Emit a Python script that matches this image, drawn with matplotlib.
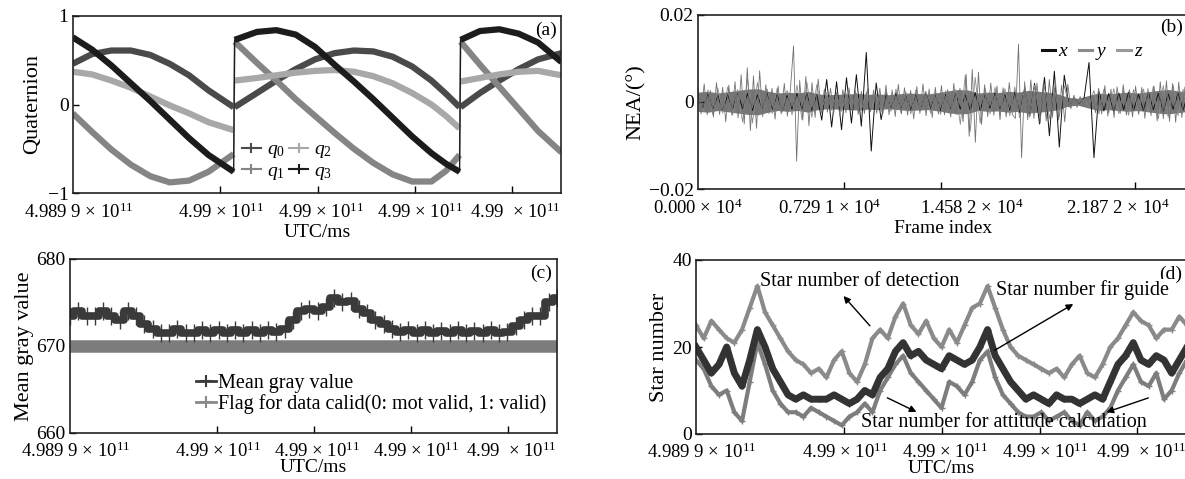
import matplotlib.pyplot as plt
from matplotlib.lines import Line2D
import numpy as np

plt.rcParams['font.family'] = ['Liberation Serif', 'DejaVu Serif']
plt.rcParams['mathtext.fontset'] = 'custom'
plt.rcParams['mathtext.rm'] = 'Liberation Serif'
plt.rcParams['mathtext.it'] = 'Liberation Serif:italic'
plt.rcParams['font.size'] = 14

# ---------------- (a) quaternion, time in tick units
t_a = [0, .2, .4, .6, .8, 1.0, 1.2, 1.4, 1.66,
       1.67, 1.9, 2.1, 2.3, 2.5, 2.7, 2.9, 3.1, 3.3, 3.5, 3.7, 3.85, 3.99,
       4.0, 4.2, 4.4, 4.6, 4.8, 5.04]
q0 = [0.46, 0.57, 0.61, 0.61, 0.56, 0.46, 0.33, 0.16, -0.03,
      -0.03, 0.13, 0.27, 0.40, 0.51, 0.58, 0.61, 0.60, 0.54, 0.43, 0.27, 0.12, -0.03,
      -0.03, 0.13, 0.27, 0.40, 0.51, 0.58]
q1 = [-0.10, -0.31, -0.51, -0.68, -0.81, -0.88, -0.86, -0.76, -0.56,
      0.71, 0.47, 0.27, 0.06, -0.13, -0.32, -0.50, -0.66, -0.79, -0.87, -0.87, -0.75, -0.57,
      0.71, 0.45, 0.20, -0.05, -0.30, -0.54]
q2 = [0.37, 0.34, 0.27, 0.19, 0.09, -0.01, -0.10, -0.20, -0.29,
      0.27, 0.30, 0.33, 0.36, 0.38, 0.39, 0.37, 0.32, 0.24, 0.13, 0.00, -0.13, -0.27,
      0.26, 0.30, 0.34, 0.37, 0.38, 0.33]
q3 = [0.76, 0.62, 0.44, 0.24, 0.04, -0.17, -0.38, -0.57, -0.76,
      0.73, 0.82, 0.84, 0.79, 0.65, 0.45, 0.26, 0.06, -0.15, -0.36, -0.55, -0.67, -0.76,
      0.73, 0.83, 0.85, 0.80, 0.70, 0.48]
seg_a = [(0, 9), (9, 22), (22, 28)]

utc_marks = [1.52, 2.53, 3.53, 4.53]
utc_label_pos = [0.06, 1.53, 2.56, 3.58, 4.57]
utc_labels = ["4.989 9 × 10$^{11}$", "4.99 × 10$^{11}$", "4.99 × 10$^{11}$",
              "4.99 × 10$^{11}$", "4.99  × 10$^{11}$"]

# ---------------- (b) NEA noise, 1e-3 deg
z_nea = [3.2, -2.8, 4.1, -3.0,
         2.6, -3.5, 4.4, -2.9, 3.3, -4.6, 3.8, -3.1, 4.6, -3.7,
         6.2, -5.1, 7.8, -6.6, 5.9, -6.1, 7.1,
         -3.4, 3.9, -2.7, 3.1, -4.0, 3.6, -2.8, 4.2, -3.3, 2.9,
         12.8, -13.6,
         4.9, -4.2, 5.8, -5.5, 4.4, -3.6, 5.2,
         -2.6, 2.9, -2.4, 3.1, -2.7, 2.2, -3.0, 2.8, -2.5, 3.2, -2.1, 2.6, -2.9, 2.4, -2.7, 3.0, -2.3, 2.7, -2.6,
         3.1, -2.6, 3.8, -3.0, 2.7, -3.4, 4.0, -2.8, 3.2, -3.1, 2.6, -3.9, 3.5, -2.7, 4.1, -3.2, 2.9, -3.6, 3.3,
         -2.8, 3.7, -3.0, 2.8, -3.5, 4.2, -2.9, 3.1,
         -4.6, 6.3, -7.9, 7.4, -9.3, 6.8, -5.2,
         3.9, -3.4, 4.3, -3.1, 3.6, -4.1, 3.2, -3.5, 4.4, -2.9, -3.8,
         13.2, -12.8,
         4.6, -4.1, 5.0, -3.8, 4.3, -4.9, 3.9, -4.4, 5.1, -3.6, 4.7, -4.2, 3.8, -4.6, 4.0,
         -1.6, 1.5, -1.3, 1.2, -1.0, 0.9, -0.8, 0.9,
         -2.5,
         3.1, -2.8, 3.7, -3.3, 2.9, -3.6, 3.4, -2.7, 3.9, -3.1, 2.8, -3.5, 3.6, -2.9, 3.3,
         -3.8, 3.0, -3.2, 3.5, -4.4, 4.6, -3.9, 4.8, -4.5, 4.2, -4.7, 4.5, -3.6, 3.4, -3.0]
y_nea = [2.4, -2.1, 2.7,
         -2.9, 3.1, -2.6, 3.4, -3.0, 2.8,
         -4.6, 5.3, -4.9, 4.4,
         -2.5, 2.9, -2.7, 3.1, -2.4, 2.6,
         -3.0,
         3.8, -4.1, 4.5, -3.6, 3.9,
         -1.8, 2.1, -2.0, 1.7, -2.2, 1.9, -1.6, 2.0, -1.9, 2.2, -1.7, 1.8,
         -2.4, 2.6, -2.2, 2.9, -2.5, 2.3, -2.8, 2.7, -2.1, 2.4, -2.6, 2.2, -2.9, 2.5, -2.3, 2.8,
         -5.2, 6.1, -6.8, 5.6, -4.9,
         3.1, -2.8, 3.3, -2.9, 3.0, -3.2,
         3.4, -3.7, 3.3, -3.5, 3.8, -3.1, 3.6, -3.9, 3.2, -3.4, 3.7,
         -1.1, 0.9, -0.8, 0.7, -0.9,
         2.6, -2.8, 2.9, -2.5, 3.0, -2.7, 2.6, -3.1, 2.8, -2.6,
         2.9, -2.4, 3.6, -3.9, 3.7, -3.5, 3.8, -3.2, 2.9, -2.7]
x_nea = [1.8, -1.6, 2.0, -1.9, 1.5, -2.1, 1.7, -1.8, 2.2, -1.6, 1.9, -2.0, 1.6,
         -1.7, 2.1, -1.9, 1.8, -2.2, 1.6, -1.8, 2.0, -1.7, 1.9, -2.1, 1.7,
         -4.2, 5.1, -5.8, 4.6, -6.4, 5.5, -4.9, 6.2, -5.6,
         11.3, -11.3,
         4.3, -4.1,
         1.9, -1.7, 2.1, -1.8, 1.6, -2.0, 1.8, -1.9, 2.2, -1.6, 1.7, -2.1, 1.9, -1.8,
         2.0, -1.7, 1.6, -1.9, 2.1, -2.0, 1.8, -1.6, 2.2, -1.9, 1.7, -2.1, 2.3, -2.6,
         3.1, -3.4, 4.2, -5.1, 5.6,
         -7.8, 7.0, -10.4, 6.1,
         -1.2, 0.9, -0.7, 0.8,
         9.0, -12.8,
         2.4, -2.1, 1.9, -2.3, 2.0, -1.8, 2.2, -1.9, 1.7, -2.0, 2.1, -1.8, 1.9, -2.2,
         1.8, -1.7, 2.0, -1.9, 1.8]
# half-width of the solid gray core of the noise band, 1e-3 deg
core_nea = [2.2, 2.4, 2.0, 2.3, 2.6, 2.9, 3.0, 2.4, 2.0, 2.2,
            2.0, 2.4, 1.8, 1.6, 1.7, 1.8, 1.9, 1.7, 1.8, 1.6,
            1.8, 2.0, 1.9, 1.8, 2.1, 2.5, 2.8, 2.7, 2.0, 2.2,
            2.1, 2.4, 2.2, 2.6, 2.4, 2.2, 1.8, 1.0, 0.8, 1.4,
            2.0, 1.8, 2.0, 2.2, 2.0, 2.3, 2.6, 2.8, 2.5, 2.2]
frame_max = 24500
frame_marks = [7290, 12150, 21870]
frame_label_pos = [0, 6600, 13700, 21000]
frame_labels = ["0.000 × 10$^{4}$", "0.729 1 × 10$^{4}$", "1.458 2 × 10$^{4}$", "2.187 2 × 10$^{4}$"]

# ---------------- (c) mean gray value
gray_mean = [673.5, 674, 673.5, 673.5, 674, 673.5, 673, 674, 673.5, 672.5,
             672, 671.5, 671.5, 672, 671.5, 671.5, 671.8, 671.5, 671.8, 671.5,
             671.8, 671.5, 671.8, 671.5, 671.8, 671.6, 672, 673, 674, 674.2,
             674, 674.5, 675.5, 675, 675.2, 674.3, 673.8, 673, 672.5, 672,
             671.6, 671.8, 671.5, 671.8, 671.5, 671.7, 671.5, 671.8, 671.5, 671.7,
             671.5, 671.8, 671.5, 671.6, 672.3, 673, 673.5, 673.5, 675, 675.5]
flag_t = [0, 5.04]
flag_v = [670, 670]

# ---------------- (d) star numbers
star_det = [25, 22, 26, 24, 22, 21, 24, 29, 34, 28, 25, 22, 19, 17, 16, 14, 15, 13, 17, 19,
            14, 12, 16, 22, 24, 22, 27, 30, 25, 23, 26, 22, 20, 24, 21, 25, 29, 30, 34, 29,
            24, 20, 18, 17, 16, 15, 14, 15, 13, 16, 18, 14, 13, 16, 20, 22, 25, 28, 26, 25,
            22, 24, 24, 27, 25]
star_guide = [20, 17, 14, 16, 20, 14, 11, 17, 24, 20, 15, 12, 9, 8, 9, 8, 8, 8, 9, 8,
              7, 8, 10, 9, 13, 15, 19, 21, 18, 19, 17, 16, 15, 18, 17, 16, 17, 20, 24, 18,
              15, 12, 10, 8, 9, 8, 7, 9, 8, 8, 7, 8, 9, 8, 12, 16, 18, 21, 17, 16,
              18, 17, 14, 17, 20]
star_att = [17, 15, 11, 9, 10, 5, 3, 12, 21, 16, 10, 7, 5, 5, 4, 6, 5, 4, 3, 2,
            4, 5, 7, 5, 10, 13, 16, 18, 14, 12, 10, 8, 6, 12, 11, 9, 12, 17, 19, 13,
            9, 7, 5, 4, 4, 5, 3, 4, 5, 3, 2, 5, 3, 4, 6, 10, 13, 16, 12, 11,
            14, 8, 10, 14, 17]

W, H = 1185, 479
fig = plt.figure(figsize=(W / 100, H / 100), dpi=100)


def box(l, t, r, b):
    return [l / W, 1 - b / H, (r - l) / W, (b - t) / H]


def style(ax, marks, lpos, labels, yt, ylabels, pad=7):
    ax.set_xticks(lpos, labels)
    ax.set_xticks(marks, minor=True)
    ax.tick_params(axis='x', which='major', length=0, pad=pad, labelsize=13.5)
    ax.tick_params(axis='x', which='minor', direction='in', length=5, width=1)
    ax.set_yticks(yt, ylabels)
    ax.tick_params(axis='y', direction='in', length=4, width=1, labelsize=14, pad=3)
    for s in ax.spines.values():
        s.set_linewidth(1.2)
        s.set_color('#222222')


# ---- (a)
ax = fig.add_axes(box(72.7, 16, 561.4, 193))
cols_a = ['#4a4a4a', '#858585', '#a8a8a8', '#1c1c1c']
for q, c in zip([q0, q1, q2, q3], cols_a):
    ax.plot(t_a, q, color=c, lw=1)
    for s0, s1 in seg_a:
        ax.plot(t_a[s0:s1], q[s0:s1], color=c, lw=4.5, solid_capstyle='butt')
ax.set_xlim(0, 5.04)
ax.set_ylim(-1, 1)
style(ax, utc_marks, utc_label_pos, utc_labels, [-1, 0, 1], ['\u22121', '0', '1'])
ax.set_xlabel('UTC/ms', labelpad=1)
ax.set_ylabel('Quaternion', labelpad=4, fontsize=16)
ax.text(0.99, 0.92, '(a)', transform=ax.transAxes, ha='right', va='center')
hs = [Line2D([], [], color=c, marker='+', lw=1.5, ms=7, mew=1.5) for c in cols_a]
ax.legend(hs, ['$q_0$', '$q_1$', '$q_2$', '$q_3$'], ncol=2, frameon=False,
          loc='upper left', bbox_to_anchor=(232 / W, 1 - 131 / H), bbox_transform=fig.transFigure,
          handlelength=1.0, handletextpad=0.3, columnspacing=0.2, labelspacing=0.1,
          borderpad=0, fontsize=14)

# ---- (b)
ax = fig.add_axes(box(698, 14.5, 1188, 189))
ax.plot(np.linspace(0, frame_max, len(x_nea)), np.array(x_nea) / 1000, color='#111111', lw=0.7)
fc = np.linspace(0, frame_max, len(core_nea))
ax.fill_between(fc, -np.array(core_nea) / 1000, np.array(core_nea) / 1000,
                color='#777777', lw=0)
for v, c in zip([y_nea, z_nea], ['#8a8a8a', '#727272']):
    ax.plot(np.linspace(0, frame_max, len(v)), np.array(v) / 1000, color=c, lw=0.6)
ax.set_xlim(0, frame_max)
ax.set_ylim(-0.02, 0.02)
style(ax, frame_marks, frame_label_pos, frame_labels, [-0.02, 0, 0.02], ['\u22120.02', '0', '0.02'])
ax.set_xlabel('Frame index', labelpad=1)
ax.set_ylabel('NEA/(°)', labelpad=2, fontsize=16)
ax.text(0.99, 0.925, '(b)', transform=ax.transAxes, ha='right', va='center')
hs = [Line2D([], [], color=c, lw=2.2) for c in ['#111111', '#8a8a8a', '#9a9a9a']]
ax.legend(hs, ['$x$', '$y$', '$z$'], ncol=3, frameon=False, loc='upper left',
          bbox_to_anchor=(1032 / W, 1 - 33 / H), bbox_transform=fig.transFigure,
          handlelength=0.7, handletextpad=0.15, columnspacing=0.5, borderpad=0, fontsize=14)

# ---- (c)
ax = fig.add_axes(box(70, 259, 557, 433))
ax.plot(flag_t, flag_v, color='#7c7c7c', lw=9, solid_capstyle='butt')
tc = np.linspace(0, 5.04, len(gray_mean))
ax.plot(tc, gray_mean, color='#3a3a3a', lw=5.5, drawstyle='steps-mid')
ax.plot(tc, gray_mean, ls='none', color='#3a3a3a', marker='|', ms=13, mew=1)
ax.set_xlim(0, 5.04)
ax.set_ylim(660, 680)
style(ax, utc_marks, utc_label_pos, utc_labels, [660, 670, 680], ['660', '670', '680'], pad=6)
ax.set_xlabel('UTC/ms', labelpad=-1)
ax.set_ylabel('Mean gray value', labelpad=2, fontsize=16)
ax.text(0.99, 0.92, '(c)', transform=ax.transAxes, ha='right', va='center')
hs = [Line2D([], [], color='#3a3a3a', marker='+', lw=2, ms=8, mew=1.5),
      Line2D([], [], color='#8a8a8a', marker='+', lw=2, ms=8, mew=1.5)]
ax.legend(hs, ['Mean gray value', 'Flag for data calid(0: mot valid, 1: valid)'], frameon=False,
          loc='upper left', bbox_to_anchor=(186 / W, 1 - 364 / H), bbox_transform=fig.transFigure,
          handlelength=1.0, handletextpad=0.1, labelspacing=0.05, borderpad=0, fontsize=14.5)

# ---- (d)
ax = fig.add_axes(box(696, 260, 1187, 434))
td = np.linspace(0, 5.04, len(star_det))
ax.plot(td, star_det, color='#8a8a8a', lw=3, marker='+', ms=5)
ax.plot(td, star_att, color='#7d7d7d', lw=3, marker='+', ms=5)
ax.plot(td, star_guide, color='#333333', lw=5, marker='+', ms=5)
ax.set_xlim(0, 5.04)
ax.set_ylim(0, 40)
style(ax, utc_marks, utc_label_pos, utc_labels, [0, 20, 40], ['0', '20', '40'], pad=6)
ax.set_xlabel('UTC/ms', labelpad=-1)
ax.set_ylabel('Star number', labelpad=2, fontsize=16)
ax.text(0.99, 0.92, '(d)', transform=ax.transAxes, ha='right', va='center')
fs = 14.5
ax.text(0.66, 35.0, 'Star number of detection', ha='left', va='center', fontsize=fs)
ax.text(3.08, 33.1, 'Star number fir guide', ha='left', va='center', fontsize=fs,
        bbox=dict(facecolor='white', edgecolor='none', pad=1))
ax.text(1.69, 2.6, 'Star number for attitude calculation', ha='left', va='center', fontsize=fs)
arw = dict(arrowstyle='-|>', color='k', lw=1, mutation_scale=10)
ax.annotate('', xy=(1.495, 32.2), xytext=(1.804, 24.4), arrowprops=arw)
ax.annotate('', xy=(3.897, 30.2), xytext=(3.04, 18.9), arrowprops=arw)
ax.annotate('', xy=(2.289, 4.8), xytext=(1.938, 8.6), arrowprops=arw)
ax.annotate('', xy=(4.186, 4.8), xytext=(4.67, 8.5), arrowprops=arw)

fig.savefig('out.png', dpi=100)
